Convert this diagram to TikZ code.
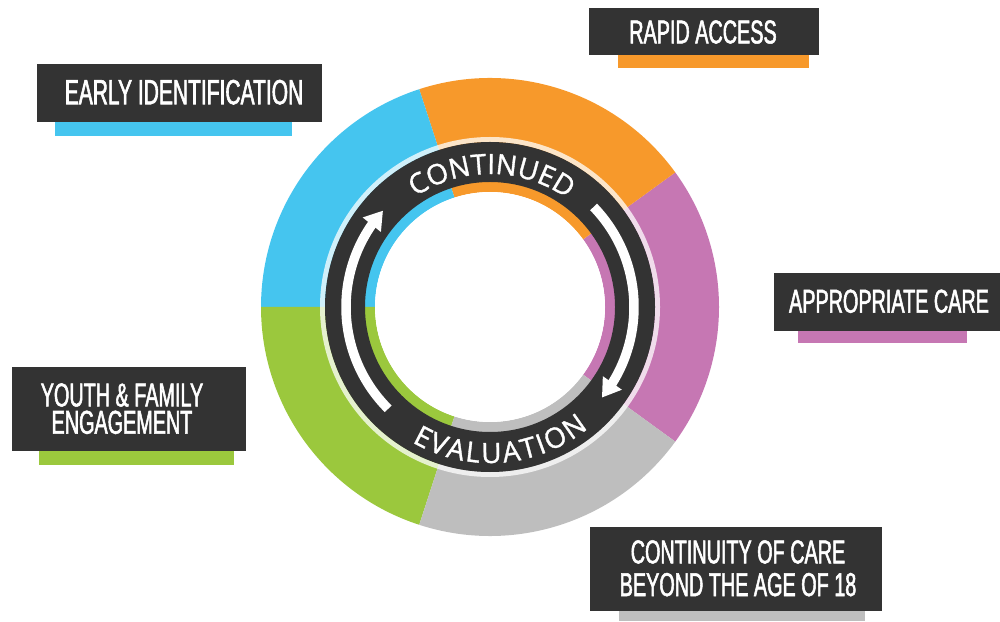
\documentclass[tikz,border=0pt]{standalone}
\usepackage{fontspec}
\usetikzlibrary{decorations.text,arrows.meta,bending}
\newfontfamily\labelfont[FakeStretch=0.6,FakeBold=1.6]{Liberation Sans}
\newfontfamily\ringfont[FakeBold=1.2]{Open Sans}
\definecolor{cblue}{HTML}{45C5EF}
\definecolor{corange}{HTML}{F7992B}
\definecolor{cpurple}{HTML}{C677B3}
\definecolor{cgreen}{HTML}{9BC83D}
\definecolor{cgray}{HTML}{BEBEBE}
\definecolor{cdark}{HTML}{333333}
\begin{document}
\begin{tikzpicture}[x=1pt,y=1pt,
  lbl/.style={text=white, inner sep=0pt, align=center, font={\labelfont\fontsize{33}{33}\selectfont}},
  darkbox/.style={fill=cdark},
  ringarrow/.style={draw=white, line width=9.5pt, -{Triangle[width=22pt,length=18pt]}},
  ringtext/.style={decorate, decoration={text along path, text align={fit to path}, text color=white}}]
\useasboundingbox (0,0) rectangle (1000,621);
% ---------- ring ----------
\begin{scope}[shift={(490,314)}]
  \foreach \a/\c in {-36/cpurple,36/corange,108/cblue,180/cgreen,252/cgray}
    \fill[\c] (\a:229pt) arc[start angle=\a, delta angle=72, radius=229pt]
      -- ({\a+72}:115pt) arc[start angle={\a+72}, delta angle=-72, radius=115pt] -- cycle;
  \draw[white, opacity=.75, line width=5pt] (0,0) circle[radius=167.5pt];
  \draw[cdark, line width=40pt] (0,0) circle[radius=145pt];
  \fill[white] (0,0) circle[radius=115pt];
  % arrows
  \draw[ringarrow] (225:144pt) arc[start angle=225, end angle=138, radius=144pt];
  \draw[ringarrow] (44:144pt) arc[start angle=44, end angle=-39, radius=144pt];
  % curved texts
  \path[ringtext, decoration={text={|\ringfont\fontsize{28}{28}\selectfont|CONTINUED}}]
    (124:133pt) arc[start angle=124, end angle=55, radius=133pt];
  \path[ringtext, decoration={text={|\ringfont\fontsize{28}{28}\selectfont|EVALUATION}}]
    (-120:156pt) arc[start angle=-120, end angle=-51, radius=156pt];
\end{scope}
% ---------- labels ----------
% Early identification
\fill[cblue] (55,485) rectangle (292,500);
\fill[darkbox] (37,499) rectangle (322,557);
\node[lbl, font={\labelfont\fontsize{35}{35}\selectfont}] (early) at (184,528.8) {EARLY IDENTIFICATION};
% Rapid access
\fill[corange] (618,553) rectangle (809,567);
\fill[darkbox] (589,566) rectangle (819,613);
\node[lbl] (rapid) at (703,589) {RAPID ACCESS};
% Appropriate care
\fill[cpurple] (798,278) rectangle (967,291);
\fill[darkbox] (774,290) rectangle (1000,348);
\node[lbl] (approp) at (889,319.7) {APPROPRIATE CARE};
% Youth & family engagement
\fill[cgreen] (39,156) rectangle (234,171);
\fill[darkbox] (12,170) rectangle (246,254);
\node[lbl, font={\labelfont\fontsize{33}{27.3}\selectfont}] (youth) at (122,212.3) {YOUTH \& FAMILY\\ENGAGEMENT};
% Continuity of care
\fill[cgray] (619,0) rectangle (865,11);
\fill[darkbox] (590,10) rectangle (882,94);
\node[lbl, font={\labelfont\fontsize{33}{32.7}\selectfont}] (contin) at (738,52.7) {CONTINUITY OF CARE\\BEYOND THE AGE OF 18};
\end{tikzpicture}
\end{document}
